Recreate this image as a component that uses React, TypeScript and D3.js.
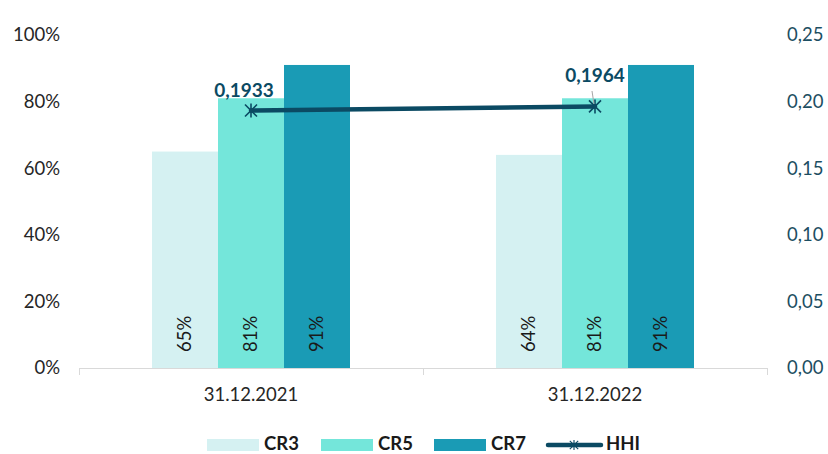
import { useEffect, useRef } from 'react';
import * as d3 from 'd3';

const categories = ['31.12.2021', '31.12.2022'];
const seriesNames = ['CR3', 'CR5', 'CR7'];
const cr3 = [0.65, 0.64];
const cr5 = [0.81, 0.81];
const cr7 = [0.91, 0.91];
const hhi = [0.1933, 0.1964];
const leftTicks = [0, 0.2, 0.4, 0.6, 0.8, 1];
const rightTicks = [0, 0.05, 0.1, 0.15, 0.2, 0.25];

const colors = ['#d5f1f2', '#74e6da', '#1a9bb5'];
const lineColor = '#0b4a63';

export default function App() {
  const svgRef = useRef<SVGSVGElement>(null);
  const width = 828;
  const height = 454;

  useEffect(() => {
    const svg = d3.select(svgRef.current);
    svg.selectAll('*').remove();
    const font = 'Lato, "Open Sans", sans-serif';
    const fs = '18.5px';

    const x0 = d3.scaleBand().domain(categories).range([79, 767]);
    const x1 = d3.scaleBand().domain(seriesNames).range([0, 198]);
    const yL = d3.scaleLinear().domain([0, 1]).range([368, 35]);
    const yR = d3.scaleLinear().domain([0, 0.25]).range([368, 35]);

    const series = [cr3, cr5, cr7];

    // osie
    svg.append('g')
      .selectAll('text')
      .data(leftTicks)
      .enter()
      .append('text')
      .attr('x', 60)
      .attr('y', d => yL(d))
      .attr('dy', '0.35em')
      .attr('text-anchor', 'end')
      .style('font-family', font)
      .style('font-size', fs)
      .style('fill', '#262626')
      .text(d => `${Math.round(d * 100)}%`);

    svg.append('g')
      .selectAll('text')
      .data(rightTicks)
      .enter()
      .append('text')
      .attr('x', 787)
      .attr('y', d => yR(d))
      .attr('dy', '0.35em')
      .style('font-family', font)
      .style('font-size', fs)
      .style('fill', '#1d4e62')
      .text(d => d3.format('.2f')(d).replace('.', ','));

    // słupki
    categories.forEach((c, ci) => {
      const gx = x0(c)! + (x0.bandwidth() - 198) / 2;
      seriesNames.forEach((s, si) => {
        const v = series[si][ci];
        const bx = gx + x1(s)!;
        svg.append('rect')
          .attr('x', bx)
          .attr('y', yL(v))
          .attr('width', x1.bandwidth())
          .attr('height', yL(0) - yL(v))
          .style('fill', colors[si]);
        svg.append('text')
          .attr('transform', `translate(${bx + x1.bandwidth() / 2},${yL(0) - 16}) rotate(-90)`)
          .attr('dy', '0.35em')
          .style('font-family', font)
          .style('font-size', fs)
          .style('fill', '#1a1a1a')
          .text(`${Math.round(v * 100)}%`);
      });
    });

    svg.append('line')
      .attr('x1', 79).attr('x2', 767)
      .attr('y1', 368.5).attr('y2', 368.5)
      .style('stroke', '#d9d9d9');
    [79, 423, 767].forEach(t => {
      svg.append('line')
        .attr('x1', t + 0.5).attr('x2', t + 0.5)
        .attr('y1', 368).attr('y2', 375)
        .style('stroke', '#d9d9d9');
    });

    svg.append('g')
      .selectAll('text')
      .data(categories)
      .enter()
      .append('text')
      .attr('x', d => x0(d)! + x0.bandwidth() / 2)
      .attr('y', 395)
      .attr('dy', '0.35em')
      .attr('text-anchor', 'middle')
      .style('font-family', font)
      .style('font-size', fs)
      .style('fill', '#262626')
      .text(d => d);

    // HHI
    const cx = (c: string) => x0(c)! + x0.bandwidth() / 2;
    const line = d3.line<number>()
      .x((_, i) => cx(categories[i]))
      .y(d => yR(d));
    svg.append('path')
      .datum(hhi)
      .attr('d', line)
      .style('fill', 'none')
      .style('stroke', lineColor)
      .style('stroke-width', 4.5)
      .style('stroke-linecap', 'round');

    const star = (g: d3.Selection<SVGGElement, unknown, null, undefined>) => {
      g.append('path')
        .attr('d', 'M-6,-6L6,6M-6,6L6,-6M0,-7L0,7')
        .style('stroke', lineColor)
        .style('stroke-width', 1.6);
    };
    hhi.forEach((v, i) => {
      const g = svg.append('g').attr('transform', `translate(${cx(categories[i])},${yR(v)})`);
      star(g);
    });

    // etykiety HHI
    svg.append('line')
      .attr('x1', 592).attr('y1', 91)
      .attr('x2', 594).attr('y2', 104)
      .style('stroke', '#a6a6a6')
      .style('stroke-width', 1);

    const labelPos = [[244, 90], [595, 75]];
    hhi.forEach((v, i) => {
      svg.append('text')
        .attr('x', labelPos[i][0])
        .attr('y', labelPos[i][1])
        .attr('dy', '0.35em')
        .attr('text-anchor', 'middle')
        .style('font-family', font)
        .style('font-size', '19px')
        .style('font-weight', 'bold')
        .style('fill', lineColor)
        .text(d3.format('.4f')(v).replace('.', ','));
    });

    // legenda
    const legend = svg.append('g').attr('transform', 'translate(0,444)');
    const legendX = [207, 321, 434];
    seriesNames.forEach((s, i) => {
      legend.append('rect')
        .attr('x', legendX[i])
        .attr('y', -5)
        .attr('width', 52)
        .attr('height', 12)
        .style('fill', colors[i]);
      legend.append('text')
        .attr('x', legendX[i] + 57)
        .attr('y', 0)
        .attr('dy', '0.35em')
        .style('font-family', font)
        .style('font-size', '18.5px')
        .style('font-weight', 'bold')
        .style('fill', '#1a1a1a')
        .text(s);
    });
    legend.append('line')
      .attr('x1', 548).attr('x2', 601)
      .attr('y1', 1).attr('y2', 1)
      .style('stroke', lineColor)
      .style('stroke-width', 4.5)
      .style('stroke-linecap', 'round');
    star(legend.append('g').attr('transform', 'translate(574,1) scale(0.7)'));
    legend.append('text')
      .attr('x', 606)
      .attr('y', 0)
      .attr('dy', '0.35em')
      .style('font-family', font)
      .style('font-size', '18.5px')
      .style('font-weight', 'bold')
      .style('fill', '#1a1a1a')
      .text('HHI');
  }, []);

  return (
    <div style={{ position: 'absolute', top: 0, left: 0, width, height, background: '#fff' }}>
      <svg ref={svgRef} width={width} height={height} />
    </div>
  );
}
